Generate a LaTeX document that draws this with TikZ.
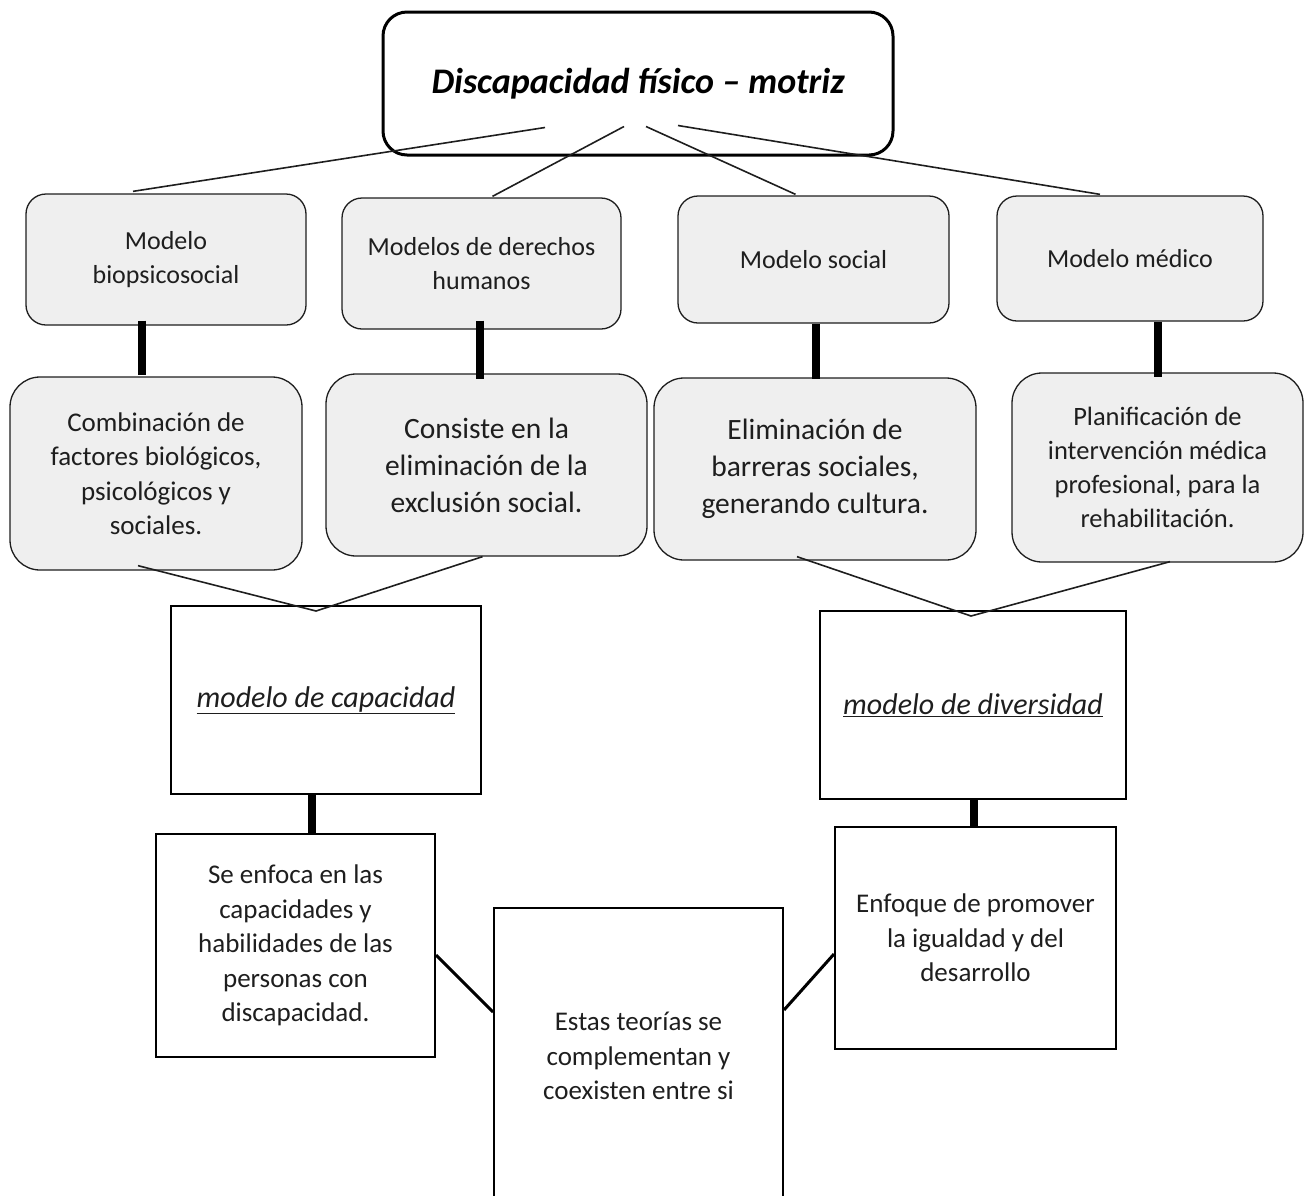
\documentclass[tikz,border=0pt]{standalone}
\usepackage{fontspec}
\setmainfont{Carlito}
\usepackage{xcolor}
\usepackage{tikz}
\definecolor{boxgray}{RGB}{239,239,239}
\definecolor{inkgray}{RGB}{30,30,30}
\usetikzlibrary{positioning}

\begin{document}
\begin{tikzpicture}[x=1pt, y=-1pt,
    topbox/.style={rectangle, rounded corners=24pt, draw=black, line width=3pt, align=center, font=\fontsize{36}{42}\selectfont\bfseries\itshape},
    modelbox/.style={rectangle, rounded corners=20pt, draw=inkgray, line width=1.3pt, fill=boxgray, align=center, text=inkgray, font=\fontsize{26}{34}\selectfont},
    ideabox/.style={rectangle, rounded corners=30pt, draw=inkgray, line width=1.3pt, fill=boxgray, align=center, text=inkgray},
    plainbox/.style={rectangle, draw=black, line width=2pt, align=center, text=inkgray, font=\fontsize{27}{34.5}\selectfont},
    kindbox/.style={rectangle, draw=black, line width=2pt, align=center, text=inkgray, font=\fontsize{30}{36}\selectfont\itshape},
    thinlink/.style={line width=1.6pt, inkgray},
    thicklink/.style={line width=8pt, black},
    sidelink/.style={line width=3pt, black}]
    \useasboundingbox (0,0) rectangle (1306,1195);

    \node[topbox, minimum width=510pt, minimum height=143pt] (title) at (638,83.5) {Discapacidad físico – motriz};

    % modelos
    \node[modelbox, minimum width=280pt, minimum height=131pt] (biopsico) at (166,259.5) {Modelo\\biopsicosocial};
    \node[modelbox, minimum width=279pt, minimum height=131pt] (derechos) at (481.5,263.5) {Modelos de derechos\\humanos};
    \node[modelbox, minimum width=271pt, minimum height=127pt] (social) at (813.5,259.5) {Modelo social};
    \node[modelbox, minimum width=266pt, minimum height=125pt] (medico) at (1130,258.5) {Modelo médico};

    % descripciones
    \node[ideabox, minimum width=292pt, minimum height=193pt, font=\fontsize{27}{34.5}\selectfont] (combina) at (156,473.5) {Combinación de\\factores biológicos,\\psicológicos y\\sociales.};
    \node[ideabox, minimum width=321pt, minimum height=182pt, font=\fontsize{29.5}{37}\selectfont] (exclusion) at (486.5,465) {Consiste en la\\eliminación de la\\exclusión social.};
    \node[ideabox, minimum width=322pt, minimum height=182pt, font=\fontsize{29.5}{37}\selectfont] (barreras) at (815,469) {Eliminación de\\barreras sociales,\\generando cultura.};
    \node[ideabox, minimum width=291pt, minimum height=189pt, font=\fontsize{26.5}{34}\selectfont] (interv) at (1157.5,467.5) {Planificación de\\intervención médica\\profesional, para la\\rehabilitación.};

    \node[kindbox, minimum width=310pt, minimum height=188pt] (capacidad) at (326,700) {\underline{modelo de capacidad}};
    \node[kindbox, minimum width=306pt, minimum height=188pt] (diversidad) at (973,705) {\underline{modelo de diversidad}};

    \node[plainbox, minimum width=279pt, minimum height=223pt] (enfoca) at (295.5,945.5) {Se enfoca en las\\capacidades y\\habilidades de las\\personas con\\discapacidad.};
    \node[plainbox, minimum width=281pt, minimum height=222pt] (promover) at (975.5,938) {Enfoque de promover\\la igualdad y del\\desarrollo};
    \node[plainbox, minimum width=289pt, minimum height=296pt, anchor=north] (teorias) at (638.5,907) {Estas teorías se\\complementan y\\coexisten entre si};

    % desde el titulo
    \draw[thinlink] ([xshift=-93pt, yshift=29pt]title.south) -- ([xshift=-33pt, yshift=2pt]biopsico.north);
    \draw[thinlink] ([xshift=-14pt, yshift=30pt]title.south) -- ([xshift=11pt, yshift=1pt]derechos.north);
    \draw[thinlink] ([xshift=8pt, yshift=30pt]title.south) -- ([xshift=-18pt, yshift=1pt]social.north);
    \draw[thinlink] ([xshift=40pt, yshift=31pt]title.south) -- ([xshift=-30pt, yshift=1pt]medico.north);

    % barras gruesas
    \draw[thicklink] ([xshift=-24pt, yshift=5pt]biopsico.south) -- ([xshift=-24pt, yshift=5pt]biopsico.south |- combina.north) -- ++(0,4);
    \draw[thicklink] ([xshift=-1.5pt, yshift=9pt]derechos.south) -- ([xshift=-1.5pt]derechos.south |- exclusion.north) -- ++(0,6);
    \draw[thicklink] ([xshift=2.5pt]social.south) -- ([xshift=2.5pt]social.south |- barreras.north) -- ++(0,2);
    \draw[thicklink] ([xshift=28pt]medico.south) -- ([xshift=28pt]medico.south |- interv.north) -- ++(0,5);

    % hacia los modelos de capacidad y diversidad
    \draw[thinlink] ([xshift=-18pt, yshift=5pt]combina.south) -- ([xshift=-10pt, yshift=-6pt]capacidad.north);
    \draw[thinlink] ([xshift=-4pt]exclusion.south) -- ([xshift=-10pt, yshift=-6pt]capacidad.north);
    \draw[thinlink] ([xshift=-18pt, yshift=4pt]barreras.south) -- ([xshift=-2pt, yshift=-6pt]diversidad.north);
    \draw[thinlink] ([xshift=12.5pt, yshift=1pt]interv.south) -- ([xshift=-2pt, yshift=-6pt]diversidad.north);

    \draw[thicklink] ([xshift=-14pt]capacidad.south) -- ([xshift=-14pt]capacidad.south |- enfoca.north);
    \draw[thicklink] ([xshift=1pt]diversidad.south) -- ([xshift=1pt]diversidad.south |- promover.north);

    \draw[sidelink] ([yshift=-9.5pt]enfoca.east) -- ([yshift=44pt]teorias.west);
    \draw[sidelink] ([yshift=46pt]teorias.east) -- ([yshift=-16pt]promover.west);
\end{tikzpicture}
\end{document}
